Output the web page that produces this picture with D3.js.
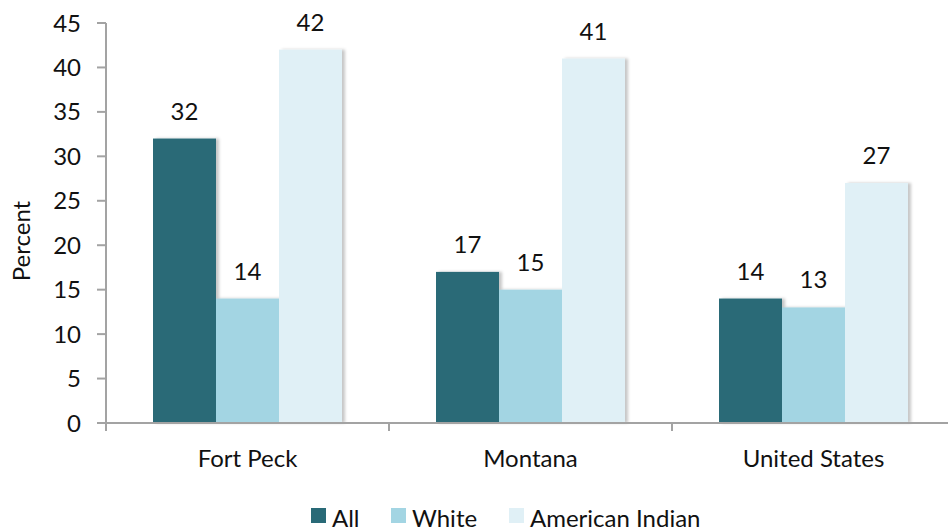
<!DOCTYPE html>
<html>
<head>
<meta charset="utf-8">
<script src="https://cdn.jsdelivr.net/npm/d3@7"></script>
<style>
  body { margin: 0; background: #fff; }
  svg { display: block; font-family: Lato, "Open Sans", sans-serif; }
</style>
</head>
<body>
<div id="chart"></div>
<script>
'use strict';

const categories = ['Fort Peck', 'Montana', 'United States'];
const seriesNames = ['All', 'White', 'American Indian'];
const allValues = [32, 17, 14];
const whiteValues = [14, 15, 13];
const indianValues = [42, 41, 27];
const yTicks = [0, 5, 10, 15, 20, 25, 30, 35, 40, 45];

const colours = ['#296a77', '#a3d5e3', '#e0f0f6'];
const width = 948;
const height = 531;

const data = categories.map(function (c, i) {
    return {
        category: c,
        values: [
            { series: seriesNames[0], value: allValues[i] },
            { series: seriesNames[1], value: whiteValues[i] },
            { series: seriesNames[2], value: indianValues[i] }
        ]
    };
});

const svg = d3.select('#chart')
    .append('svg')
    .attr('width', width)
    .attr('height', height);

// soft shadow on the right side of bars
const filter = svg.append('defs').append('filter')
    .attr('id', 'shadow')
    .attr('x', '-10%').attr('y', '-10%')
    .attr('width', '130%').attr('height', '120%');
filter.append('feDropShadow')
    .attr('dx', 3).attr('dy', 0)
    .attr('stdDeviation', 1.8)
    .attr('flood-color', '#000')
    .attr('flood-opacity', 0.22);

// scales
const xScale = d3.scaleBand()
    .domain(categories)
    .range([106, 955]);

const groupWidth = 189;
const xInner = d3.scaleBand()
    .domain(seriesNames)
    .range([0, groupWidth]);

const yScale = d3.scaleLinear()
    .domain([0, 45])
    .range([423, 23]);

const axisX = 106;
const axisColour = '#a3a3a3';

// bars
const groups = svg.selectAll('g.group')
    .data(data)
    .join('g')
    .attr('class', 'group')
    .attr('transform', function (d) {
        return `translate(${xScale(d.category) + (xScale.bandwidth() - groupWidth) / 2},0)`;
    });

groups.selectAll('rect')
    .data(function (d) { return d.values; })
    .join('rect')
    .attr('x', function (d) { return xInner(d.series); })
    .attr('y', function (d) { return yScale(d.value); })
    .attr('width', xInner.bandwidth())
    .attr('height', function (d) { return yScale(0) - yScale(d.value); })
    .attr('fill', function (d, i) { return colours[i]; })
    .attr('filter', 'url(#shadow)');

// value labels
groups.selectAll('text.value')
    .data(function (d) { return d.values; })
    .join('text')
    .attr('class', 'value')
    .attr('x', function (d) { return xInner(d.series) + xInner.bandwidth() / 2; })
    .attr('y', function (d) { return yScale(d.value) - 19; })
    .attr('text-anchor', 'middle')
    .attr('font-size', 24)
    .attr('fill', '#111')
    .text(function (d) { return d.value; });

// y axis
svg.append('line')
    .attr('x1', axisX).attr('x2', axisX)
    .attr('y1', yScale(45)).attr('y2', yScale(0) + 8)
    .attr('stroke', axisColour)
    .attr('stroke-width', 2);

svg.selectAll('line.ytick')
    .data(yTicks)
    .join('line')
    .attr('class', 'ytick')
    .attr('x1', 97).attr('x2', axisX)
    .attr('y1', function (d) { return yScale(d); })
    .attr('y2', function (d) { return yScale(d); })
    .attr('stroke', axisColour)
    .attr('stroke-width', 2);

svg.selectAll('text.ylabel')
    .data(yTicks)
    .join('text')
    .attr('class', 'ylabel')
    .attr('x', 81)
    .attr('y', function (d) { return yScale(d) + 8.5; })
    .attr('text-anchor', 'end')
    .attr('font-size', 24)
    .attr('fill', '#111')
    .text(function (d) { return d; });

svg.append('text')
    .attr('transform', 'rotate(-90)')
    .attr('x', -241)
    .attr('y', 30)
    .attr('text-anchor', 'middle')
    .attr('font-size', 24)
    .attr('fill', '#111')
    .text('Percent');

// x axis
svg.append('line')
    .attr('x1', axisX - 1).attr('x2', width)
    .attr('y1', yScale(0)).attr('y2', yScale(0))
    .attr('stroke', axisColour)
    .attr('stroke-width', 2);

const boundaries = categories.map(function (c) { return xScale(c); });

svg.selectAll('line.xtick')
    .data(boundaries)
    .join('line')
    .attr('class', 'xtick')
    .attr('x1', function (d) { return d; })
    .attr('x2', function (d) { return d; })
    .attr('y1', yScale(0))
    .attr('y2', yScale(0) + 8)
    .attr('stroke', axisColour)
    .attr('stroke-width', 2);

svg.selectAll('text.xlabel')
    .data(categories)
    .join('text')
    .attr('class', 'xlabel')
    .attr('x', function (d) { return xScale(d) + xScale.bandwidth() / 2; })
    .attr('y', 467)
    .attr('text-anchor', 'middle')
    .attr('font-size', 24)
    .attr('fill', '#111')
    .text(function (d) { return d; });

// legend
const legendX = [311, 391, 509];
const legend = svg.selectAll('g.legend')
    .data(seriesNames)
    .join('g')
    .attr('class', 'legend')
    .attr('transform', function (d, i) { return `translate(${legendX[i]},0)`; });

legend.append('rect')
    .attr('x', 0).attr('y', 508)
    .attr('width', 15).attr('height', 15)
    .attr('fill', function (d, i) { return colours[i]; });

legend.append('text')
    .attr('x', 21)
    .attr('y', 527)
    .attr('font-size', 24)
    .attr('fill', '#111')
    .text(function (d) { return d; });
</script>
</body>
</html>
